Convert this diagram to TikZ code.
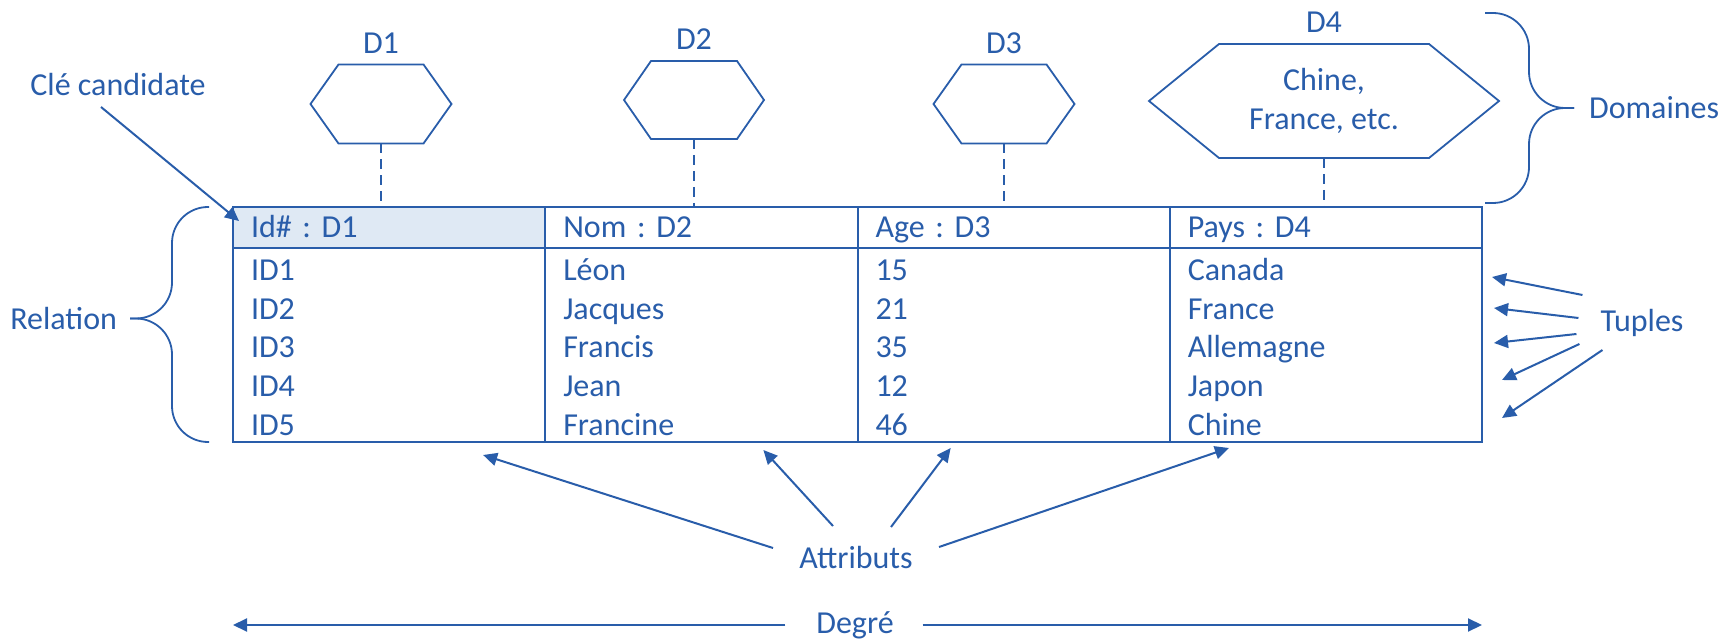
\documentclass[tikz,border=0pt]{standalone}
\usepackage{fontspec}
\setmainfont{Carlito}
\usetikzlibrary{positioning,calc,arrows.meta}
\definecolor{relblue}{RGB}{41,93,170}
\definecolor{keyblue}{RGB}{223,233,244}
\frenchspacing
\tikzset{
    head-cell/.style = {draw=relblue, line width=1pt, rectangle, outer sep=0pt, text width=138.125pt, inner xsep=9pt, inner ysep=3pt, text height=12.5pt, text depth=2pt, align=left},
    body-cell/.style = {draw=relblue, line width=1pt, rectangle, outer sep=0pt, text width=138.125pt, inner xsep=9pt, inner ysep=0.25pt, text height=16pt, text depth=80.5pt, align=left},
    hex-box/.style = {inner sep=0pt, outer sep=0pt, align=center},
    hex-line/.style = {draw=relblue, line width=0.9pt},
    dash-line/.style = {draw=relblue, line width=0.8pt, dash pattern=on 5pt off 3pt},
    brace-line/.style = {draw=relblue, line width=0.9pt, rounded corners=18pt},
    arrow-line/.style = {draw=relblue, line width=1pt, -{Triangle[length=7pt,width=6.5pt]}},
}

\begin{document}
\begin{tikzpicture}[x=0.5pt, y=-0.5pt, font=\fontsize{16}{19.375}\selectfont, text=relblue]
\useasboundingbox (0,0) rectangle (1733,641);

% domains
\node[hex-box, minimum width=70.5pt, minimum height=39.5pt] (d1) at (381,104) {};
\node[hex-box, minimum width=70pt, minimum height=39pt] (d2) at (694,100) {};
\node[hex-box, minimum width=70.5pt, minimum height=39.5pt] (d3) at (1004,104) {};
\node[hex-box, minimum width=175pt, minimum height=57pt] (d4) at (1324,101) {Chine,\\France, etc.};
\foreach \n/\c in {d1/14pt,d2/13.5pt,d3/14pt,d4/35pt}
    \draw[hex-line] (\n.west) -- ([xshift=\c]\n.north west) -- ([xshift=-\c]\n.north east)
        -- (\n.east) -- ([xshift=-\c]\n.south east) -- ([xshift=\c]\n.south west) -- cycle;
\node[above=2pt of d1] (l1) {D1};
\node[above=2pt of d2] (l2) {D2};
\node[above=2pt of d3] (l3) {D3};
\node[above=2pt of d4] (l4) {D4};

% relation
\node[head-cell, fill=keyblue, anchor=north west] (h1) at (233,207) {Id\# : D1};
\node[head-cell, right=0pt of h1] (h2) {Nom : D2};
\node[head-cell, right=0pt of h2] (h3) {Age : D3};
\node[head-cell, right=0pt of h3] (h4) {Pays : D4};
\node[body-cell, below=0pt of h1] (b1) {ID1\\ID2\\ID3\\ID4\\ID5};
\node[body-cell, below=0pt of h2] (b2) {Léon\\Jacques\\Francis\\Jean\\Francine};
\node[body-cell, below=0pt of h3] (b3) {15\\21\\35\\12\\46};
\node[body-cell, below=0pt of h4] (b4) {Canada\\France\\Allemagne\\Japon\\Chine};

\foreach \n/\h in {d1/h1,d2/h2,d3/h3,d4/h4}
    \draw[dash-line] (\n.south) -- (\n.south |- \h.north);

% braces
\coordinate (dtop) at (1485,13);
\coordinate (dbot) at ([shift={(1.5pt,2pt)}]h4.north east);
\coordinate (dtip) at ($(dtop)!.5!(dbot)+(89,0)$);
\draw[brace-line] (dtop) -- ++(44,0) |- (dtip);
\draw[brace-line] (dbot) -- ++(44,0) |- (dtip);
\node[right=4pt of dtip] (dom) {Domaines};

\coordinate (rtop) at ([xshift=-12pt]h1.north west);
\coordinate (rbot) at ([xshift=-12pt]b1.south west);
\coordinate (rtip) at ($(rtop)!.5!(rbot)+(-79,-6)$);
\draw[brace-line] (rtop) -- ++(-37,0) |- (rtip);
\draw[brace-line] (rbot) -- ++(-37,0) |- (rtip);
\node[left=3pt of rtip] (rel) {Relation};

% labels with arrows
\node (cle) at (118,85) {Clé candidate};
\draw[arrow-line] ([shift={(-8.5pt,-11pt)}]cle.center) -- ([shift={(3pt,-7pt)}]h1.north west);

\node (tup) at (1642,323) {Tuples};
\foreach \a/\b/\c/\d in {-5.5/14/5/34, -7.5/2.5/6/18.5, -8.5/-5.5/6/1, -7/-10.5/10/-17.5, 4.5/-13.5/10/-36.5}
    \draw[arrow-line] ([shift={(\a pt,\b pt)}]tup.west) -- ([shift={(\c pt,\d pt)}]b4.east);

\node (att) at (856,558) {Attributs};
\foreach \a/\b/\n/\c/\d in {-41.5/5/b1/47/-6.5, -11.5/16/b2/31/-4, 17.5/15.5/b3/-31.5/-3, 41.5/5.5/b4/-48.5/-3}
    \draw[arrow-line] ([shift={(\a pt,\b pt)}]att.center) -- ([shift={(\c pt,\d pt)}]\n.south);

\node (deg) at (855,625) {Degré};
\draw[arrow-line] ([xshift=-12pt]deg.west) -- (deg.west -| b1.west);
\draw[arrow-line] ([xshift=11pt]deg.east) -- (deg.east -| b4.east);
\end{tikzpicture}
\end{document}
